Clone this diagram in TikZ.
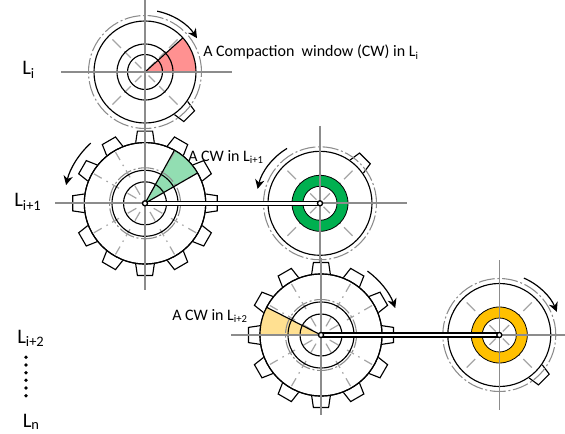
\documentclass[tikz,border=0pt]{standalone}
\usepackage{fontspec}
\setmainfont{Carlito}
\usetikzlibrary{arrows.meta,calc}
\definecolor{axisgray}{RGB}{140,140,140}
\definecolor{markgray}{RGB}{165,165,165}
\definecolor{ringgreen}{RGB}{0,176,80}
\definecolor{ringyellow}{RGB}{255,192,0}
\definecolor{wedgered}{RGB}{255,145,145}
\definecolor{wedgegreen}{RGB}{146,222,178}
\definecolor{wedgeyellow}{RGB}{255,224,145}
\tikzset{
  rim/.style={draw=black,line width=0.85pt},
  axisline/.style={draw=axisgray,line width=1.2pt},
  dashring/.style={draw=axisgray,line width=0.8pt,dash pattern=on 12pt off 2pt on 1.5pt off 2pt},
  radial/.style={draw=markgray,line width=0.9pt},
  spin/.style={draw=black,line width=0.9pt,-{Stealth[length=7pt,width=7pt]}},
  shaft/.style={draw=black,line width=3.9pt},
  shaftin/.style={draw=white,line width=2pt},
  hub/.style={draw=black,fill=white,line width=1pt,circle,inner sep=0pt,minimum size=3.8pt},
  lbl/.style={font=\fontsize{12pt}{14pt}\selectfont,inner sep=0pt,anchor=base west},
  big/.style={font=\fontsize{15.5pt}{18pt}\selectfont,inner sep=0pt,anchor=base west}
}
\newcommand{\gtooth}[4]{% cx,cy,R,angle
  \draw[rim,fill=white] ($(#1,#2)+(#4:#3)+(#4+90:9.3)$) -- ($(#1,#2)+(#4:#3+11.5)+(#4+90:7.6)$) -- ($(#1,#2)+(#4:#3+11.5)+(#4-90:7.6)$) -- ($(#1,#2)+(#4:#3)+(#4-90:9.3)$);}
\newcommand{\radmarks}[5]{% cx,cy,list,r1,r2
  \foreach \a in {#3} {\draw[radial] ($(#1,#2)+(\a:#4)$) -- ($(#1,#2)+(\a:#5)$);}}
\newcommand{\bigmarks}[2]{%
  \radmarks{#1}{#2}{30,60,120,150,210,240,300,330}{10}{20}
  \radmarks{#1}{#2}{30,60,120,150,210,240,300,330}{30}{38}
  \radmarks{#1}{#2}{30,60,120,150,210,240,300,330}{43}{44.5}
  \radmarks{#1}{#2}{30,60,120,150,210,240,300,330}{50}{59}}
\newcommand{\smallmarks}[2]{%
  \radmarks{#1}{#2}{45,135,225,315}{5}{14}
  \radmarks{#1}{#2}{45,135,225,315}{20}{29}
  \radmarks{#1}{#2}{45,135,225,315}{34}{46}}
\begin{document}
\begin{tikzpicture}[x=0.75pt,y=0.75pt]
\useasboundingbox (0,0) rectangle (565,433);
\coordinate (ca) at (145,361);
\coordinate (cb) at (145,229.7);
\coordinate (cc) at (320,229.7);
\coordinate (cd) at (321,98);
\coordinate (ce) at (499.3,98);
% gear a
\fill[wedgered] (ca) -- ++(0:51) arc[start angle=0,end angle=42,radius=51] -- cycle;
\gtooth{145}{361}{51}{-45}
\draw[dashring] (ca) circle[radius=56.5];
\smallmarks{145}{361}
\draw[rim] (ca) circle[radius=51] (ca) circle[radius=28] (ca) circle[radius=17.5];
\draw[rim] (ca) -- ++(51,0) (ca) -- ++(42:51);
\draw[axisline] (145,433) -- (145,305) (61,361) -- (232,361);
\draw[spin] ($(ca)+(78.7:62)$) arc[start angle=78.7,end angle=33,radius=62];
% gear b
\foreach \a in {0,30,...,330}{\gtooth{145}{229.7}{60.7}{\a}}
\draw[rim,fill=white] (cb) circle[radius=60.7];
\fill[wedgegreen] (cb) -- ++(30:60.7) arc[start angle=30,end angle=61,radius=60.7] -- cycle;
\draw[dashring] (cb) circle[radius=35.5];
\bigmarks{145}{229.7}
\draw[rim] (cb) circle[radius=60.7] (cb) circle[radius=33] (cb) circle[radius=21.5];
\draw[rim] (cb) -- ++(30:60.7) (cb) -- ++(61:60.7);
\draw[axisline] (145,313) -- (145,143) (55,229.7) -- (232,229.7);
\draw[spin] ($(cb)+(132:81)$) arc[start angle=132,end angle=167,radius=81];
% gear c
\gtooth{320}{229.7}{52}{45}
\draw[dashring] (cc) circle[radius=56.5];
\draw[rim,fill=white] (cc) circle[radius=52];
\smallmarks{320}{229.7}
\draw[draw=black,line width=0.6pt,fill=ringgreen,even odd rule] (cc) circle[radius=28] (cc) circle[radius=17];
\draw[axisline] (320,307) -- (320,153) (232,229.7) -- (407,229.7);
\draw[spin] ($(cc)+(121:64)$) arc[start angle=121,end angle=167,radius=64];
% gear d
\foreach \a in {0,30,...,330}{\gtooth{321}{98}{61}{\a}}
\draw[rim,fill=white] (cd) circle[radius=61];
\fill[wedgeyellow] (cd) -- ++(153:61) arc[start angle=153,end angle=180,radius=61] -- cycle;
\draw[dashring] (cd) circle[radius=35.5];
\bigmarks{321}{98}
\draw[rim] (cd) circle[radius=61] (cd) circle[radius=33] (cd) circle[radius=21];
\draw[rim] (cd) -- ++(153:61) (cd) -- ++(180:61);
\draw[axisline] (321,175) -- (321,18) (231,98) -- (410,98);
\draw[spin] ($(cd)+(54:79)$) arc[start angle=54,end angle=20,radius=79];
% gear e
\gtooth{499.3}{98}{51.5}{-45}
\draw[dashring] (ce) circle[radius=56.5];
\draw[rim,fill=white] (ce) circle[radius=51.5];
\smallmarks{499.3}{98}
\draw[draw=black,line width=0.6pt,fill=ringyellow,even odd rule] (ce) circle[radius=28] (ce) circle[radius=17];
\draw[axisline] (499.3,173) -- (499.3,23) (410,98) -- (565,98);
\draw[spin] ($(ce)+(66.6:62)$) arc[start angle=66.6,end angle=22,radius=62];
% shafts
\draw[shaft] (cb) -- (cc);
\draw[shaftin] (cb) -- (cc);
\draw[shaft] (cd) -- (ce);
\draw[shaftin] (cd) -- (ce);
\node[hub] (hb) at (cb) {};
\node[hub] (hc) at (cc) {};
\node[hub] (hd) at (cd) {};
\node[hub] (he) at (ce) {};
% labels
\node[lbl] (la) at (203,376) {A Compaction\ \ window (CW) in L\textsubscript{i}};
\node[lbl] (lb) at (188,272) {A CW in L\textsubscript{i+1}};
\node[lbl] (lc) at (172,113) {A CW in L\textsubscript{i+2}};
\node[big] (ta) at (22,358) {L\textsubscript{i}};
\node[big] (tb) at (14,226) {L\textsubscript{i+1}};
\node[big] (tc) at (17,90) {L\textsubscript{i+2}};
\node[big] (td) at (22.5,6) {L\textsubscript{n}};
\foreach \y in {37.3,45,52.7,60.3,68,75.7}{\fill[black] (26,\y) circle[radius=1.9];}
\end{tikzpicture}
\end{document}
